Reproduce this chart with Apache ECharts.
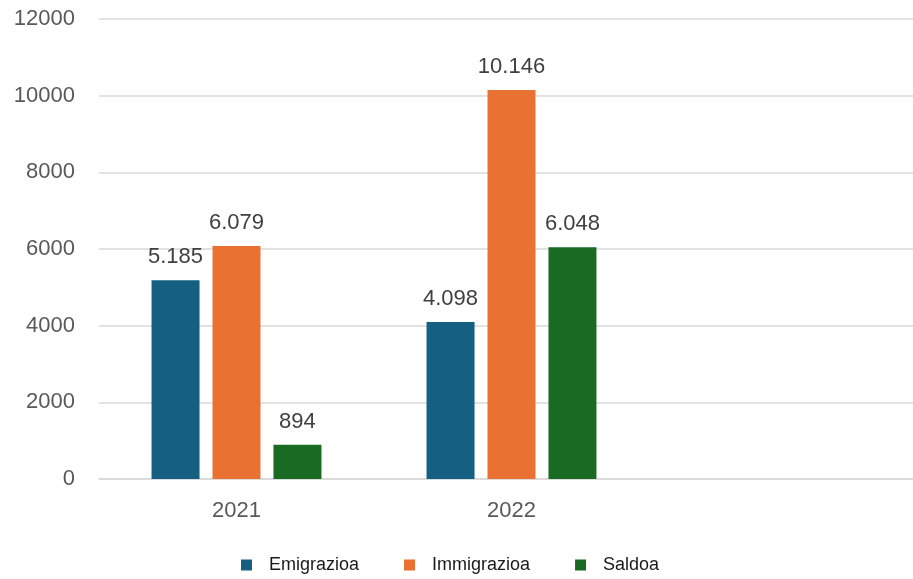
<!DOCTYPE html>
<html>
<head>
<meta charset="utf-8">
<script src="https://cdn.jsdelivr.net/npm/echarts@6/dist/echarts.min.js"></script>
<style>html,body{margin:0;padding:0;background:#fff;}#c{width:913px;height:579px;}</style>
</head>
<body>
<div id="c"></div>
<script>
const categories = ['2021', '2022', ''];
const emigrazioa = [5185, 4098, null];
const immigrazioa = [6079, 10146, null];
const saldoa = [894, 6048, null];
const seriesNames = ['Emigrazioa', 'Immigrazioa', 'Saldoa'];
const colors = ['#156082', '#E97132', '#196B24'];

function fmt(v) {
  return String(v).replace(/\B(?=(\d{3})+(?!\d))/g, '.');
}

const chart = echarts.init(document.getElementById('c'), null, {renderer: 'canvas'});
const font = 'Liberation Sans, Arial, sans-serif';
const mk = (name, data, color) => ({
  name: name,
  type: 'bar',
  data: data,
  barWidth: 48,
  barGap: '27%',
  itemStyle: {color: color},
  label: {
    show: true,
    position: 'top',
    distance: 12,
    formatter: p => fmt(p.value),
    color: '#404040',
    fontSize: 22,
    fontFamily: font
  }
});

chart.setOption({
  animation: false,
  backgroundColor: '#ffffff',
  grid: {left: 99, width: 825, top: 19, bottom: 100, containLabel: false, outerBoundsMode: 'none'},
  legend: {
    data: seriesNames,
    top: 551,
    left: 236,
    icon: 'rect',
    itemWidth: 11,
    itemHeight: 11,
    itemGap: 45,
    textStyle: {color: '#1a1a1a', fontSize: 18, fontFamily: font, padding: [0, 0, 0, 12]}
  },
  xAxis: {
    type: 'category',
    data: categories,
    axisLine: {show: true, lineStyle: {color: '#d9d9d9', width: 1.5}},
    axisTick: {show: false},
    axisLabel: {color: '#595959', fontSize: 22, fontFamily: font, margin: 21}
  },
  yAxis: {
    type: 'value',
    min: 0,
    max: 12000,
    interval: 2000,
    axisLine: {show: false},
    axisTick: {show: false},
    splitLine: {lineStyle: {color: '#d9d9d9', width: 1.5}},
    axisLabel: {color: '#595959', fontSize: 22, fontFamily: font, margin: 24, formatter: v => String(v)}
  },
  series: [
    mk(seriesNames[0], emigrazioa, colors[0]),
    mk(seriesNames[1], immigrazioa, colors[1]),
    mk(seriesNames[2], saldoa, colors[2])
  ]
});
</script>
</body>
</html>
